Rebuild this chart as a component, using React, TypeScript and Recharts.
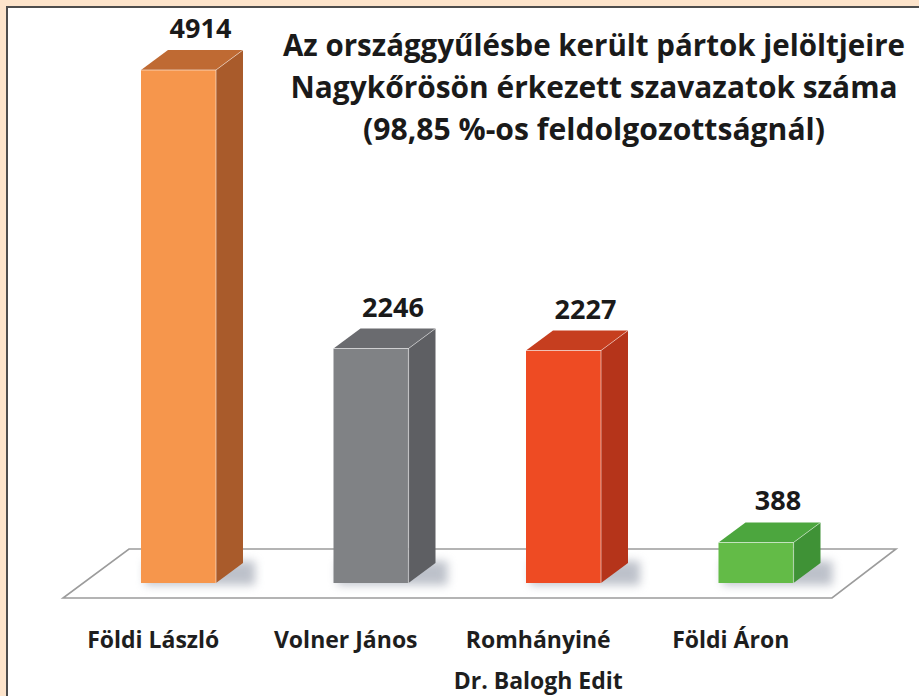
import React from 'react';
import { BarChart, Bar, XAxis, YAxis, LabelList } from 'recharts';

// ---- data ----
const categories: string[] = ['Földi László', 'Volner János', 'Romhányiné\nDr. Balogh Edit', 'Földi Áron'];
const votes: number[] = [4914, 2246, 2227, 388];
const titleLines: string[] = [
  'Az országgyűlésbe került pártok jelöltjeire',
  'Nagykőrösön érkezett szavazatok száma',
  '(98,85 %-os feldolgozottságnál)',
];
const yDomain: [number, number] = [0, 5000];

// ---- styles ----
const FRONT = ['#F6964C', '#808285', '#EE4B23', '#63BB47'];
const SIDE = ['#A95B2B', '#5E5F63', '#B5341A', '#3F9236'];
const TOP = ['#BF6A33', '#6A6B6F', '#C63E1F', '#4CA63E'];

const W = 919;
const H = 696;
const M = { top: 61, right: 67, bottom: 53, left: 82 };
const XAXIS_H = 60;
const DX = 27;
const DY = 20;
const FONT = '"Open Sans", "Noto Sans", sans-serif';

const data = categories.map((name, i) => ({ name, votes: votes[i] }));

const plotLeft = M.left;
const plotRight = W - M.right;
const plotBottom = H - M.bottom - XAXIS_H;

function Floor() {
  const b = plotBottom;
  const pts = [
    [plotLeft + 47, b - 34],
    [plotRight + 44, b - 34],
    [plotRight - 20, b + 15],
    [plotLeft - 19, b + 15],
  ]
    .map((p) => p.join(','))
    .join(' ');
  return (
    <g>
      <defs>
        <filter id="shadowBlur" x="-50%" y="-50%" width="200%" height="200%">
          <feGaussianBlur stdDeviation="5" />
        </filter>
      </defs>
      <polygon points={pts} fill="#ffffff" stroke="#9c9c9c" strokeWidth={1.6} />
    </g>
  );
}

function Box(props: any) {
  const { x, y, width, height, index } = props;
  if (height == null || width == null) return null;
  const i = index ?? 0;
  const r = x + width;
  const b = y + height;
  const front = FRONT[i % 4];
  const side = SIDE[i % 4];
  const top = TOP[i % 4];
  return (
    <g>
      <rect
        x={x + 4}
        y={b - 22}
        width={width + DX + 8}
        height={24}
        fill="#7d8596"
        opacity={0.5}
        filter="url(#shadowBlur)"
      />
      <rect x={x} y={y} width={width} height={height} fill={front} />
      <polygon
        points={`${r},${y} ${r + DX},${y - DY} ${r + DX},${b - DY} ${r},${b}`}
        fill={side}
      />
      <polygon
        points={`${x},${y} ${x + DX},${y - DY} ${r + DX},${y - DY} ${r},${y}`}
        fill={top}
      />
      <line x1={x} y1={y} x2={r} y2={y} stroke="#ffffff" strokeOpacity={0.55} strokeWidth={1.2} />
      <line x1={r} y1={y} x2={r} y2={b} stroke="#ffffff" strokeOpacity={0.45} strokeWidth={1.2} />
      <line x1={r} y1={y} x2={r + DX} y2={y - DY} stroke="#ffffff" strokeOpacity={0.45} strokeWidth={1} />
    </g>
  );
}

function ValueLabel(props: any) {
  const { x, y, width, value } = props;
  return (
    <text
      x={x + width / 2 + 22}
      y={y - 32}
      textAnchor="middle"
      fontFamily={FONT}
      fontWeight={700}
      fontSize={27}
      fill="#1a1a1a"
    >
      {value}
    </text>
  );
}

function CatTick(props: any) {
  const { x, y, payload } = props;
  const lines = String(payload.value).split('\n');
  return (
    <g>
      {lines.map((ln, k) => (
        <text
          key={k}
          x={x - 25}
          y={y + 65 + k * 41}
          textAnchor="middle"
          fontFamily={FONT}
          fontWeight={700}
          fontSize={23}
          fill="#1e1e1e"
        >
          {ln}
        </text>
      ))}
    </g>
  );
}

function Title() {
  const cx = 594;
  const lens = [622, 607, 462];
  return (
    <g>
      {titleLines.map((t, k) => (
        <text
          key={k}
          x={cx}
          y={56 + k * 42}
          textAnchor="middle"
          fontFamily={FONT}
          fontWeight={700}
          fontSize={30}
          fill="#1a1a1a"
          textLength={lens[k]}
          lengthAdjust="spacingAndGlyphs"
        >
          {t}
        </text>
      ))}
    </g>
  );
}

export default function App() {
  return (
    <div
      style={{
        position: 'fixed',
        left: 0,
        top: 0,
        width: W,
        height: H,
        background: '#FDE4CB',
        overflow: 'hidden',
      }}
    >
      <div
        style={{
          position: 'absolute',
          left: 6,
          top: 6,
          width: W,
          height: H,
          background: '#ffffff',
          borderLeft: '2px solid #4d4d4d',
          borderTop: '2px solid #4d4d4d',
        }}
      />
      <div style={{ position: 'absolute', left: 0, top: 0 }}>
        <BarChart width={W} height={H} data={data} margin={M}>
          <Floor />
          <Title />
          <XAxis
            dataKey="name"
            axisLine={false}
            tickLine={false}
            tickSize={0}
            tickMargin={0}
            height={XAXIS_H}
            interval={0}
            tick={<CatTick />}
          />
          <YAxis hide domain={yDomain} />
          <Bar dataKey="votes" barSize={75} shape={<Box />} isAnimationActive={false}>
            <LabelList dataKey="votes" content={<ValueLabel />} />
          </Bar>
        </BarChart>
      </div>
    </div>
  );
}
